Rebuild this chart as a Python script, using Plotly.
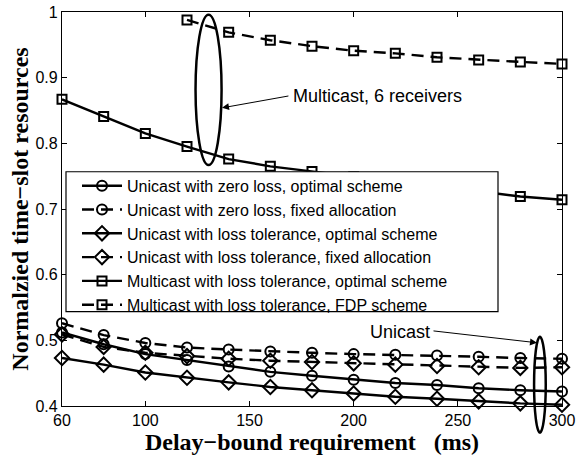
import plotly.graph_objects as go

# ---------------- data ----------------
delay_ms = [60, 80, 100, 120, 140, 160, 180, 200, 220, 240, 260, 280, 300]
delay_fdp = [120, 140, 160, 180, 200, 220, 240, 260, 280, 300]

uni_zero_opt = [0.512, 0.494, 0.479, 0.470, 0.460, 0.452, 0.446, 0.440, 0.435, 0.432, 0.427, 0.424, 0.422]
uni_zero_fix = [0.526, 0.508, 0.496, 0.489, 0.486, 0.483, 0.481, 0.479, 0.478, 0.477, 0.475, 0.473, 0.472]
uni_tol_opt = [0.473, 0.463, 0.451, 0.443, 0.436, 0.429, 0.424, 0.419, 0.414, 0.411, 0.407, 0.404, 0.402]
uni_tol_fix = [0.509, 0.490, 0.481, 0.476, 0.472, 0.469, 0.467, 0.465, 0.463, 0.461, 0.459, 0.458, 0.459]
mc_tol_opt = [0.867, 0.841, 0.815, 0.795, 0.776, 0.765, 0.757, 0.749, 0.741, 0.734, 0.727, 0.719, 0.714]
mc_tol_fdp = [0.988, 0.969, 0.957, 0.948, 0.941, 0.937, 0.931, 0.927, 0.924, 0.921]

names = [
    "Unicast with zero loss, optimal scheme",
    "Unicast with zero loss, fixed allocation",
    "Unicast with loss tolerance, optimal scheme",
    "Unicast with loss tolerance, fixed allocation",
    "Multicast with loss tolerance, optimal scheme",
    "Multicast with loss tolerance, FDP scheme",
]

x_ticks = [60, 100, 150, 200, 250, 300]
y_ticks = [0.4, 0.5, 0.6, 0.7, 0.8, 0.9, 1.0]
y_ticklabels = ["0.4", "0.5", "0.6", "0.7", "0.8", "0.9", "1"]

X_RANGE = [60, 300]
Y_RANGE = [0.4, 1.0]

DASH = "12px,7px"
SANS = "Liberation Sans, Arial, Helvetica, sans-serif"
SERIF = "Liberation Serif, Times New Roman, serif"

series = [
    (delay_ms, uni_zero_opt, "solid", "circle-open", 10),
    (delay_ms, uni_zero_fix, DASH, "circle-open", 10),
    (delay_ms, uni_tol_opt, "solid", "diamond-open", 11),
    (delay_ms, uni_tol_fix, DASH, "diamond-open", 11),
    (delay_ms, mc_tol_opt, "solid", "square-open", 9),
    (delay_fdp, mc_tol_fdp, DASH, "square-open", 9),
]

fig = go.Figure()
for (xs, ys, dash, sym, sz), nm in zip(series, names):
    fig.add_trace(go.Scatter(
        x=xs, y=ys, name=nm, mode="lines+markers",
        line=dict(color="black", width=2.4, dash=dash),
        marker=dict(symbol=sym, size=sz, color="black", line=dict(color="black", width=2)),
        cliponaxis=False,
    ))

def ypaper(v):
    return (v - Y_RANGE[0]) / (Y_RANGE[1] - Y_RANGE[0])

shapes = [
    dict(type="circle", xref="x", yref="y", x0=124.1, x1=136.6, y0=0.767, y1=0.996,
         line=dict(color="black", width=2.5)),
    dict(type="circle", xref="x", yref="paper", x0=286.6, x1=292.2,
         y0=ypaper(0.3595), y1=ypaper(0.5055), line=dict(color="black", width=2.5)),
    # legend box (white, covers the curves behind it)
    dict(type="rect", xref="paper", yref="paper", x0=0.008, x1=0.872, y0=0.2395, y1=0.5946,
         fillcolor="white", line=dict(color="black", width=1.2), layer="above"),
]

annotations = [
    dict(x=136.8, y=0.854, ax=169.4, ay=0.8725, xref="x", yref="y", axref="x", ayref="y",
         text="", showarrow=True, arrowhead=2, arrowsize=1.4, arrowwidth=1, arrowcolor="black"),
    dict(x=170.0, y=0.8725, xref="x", yref="y", text="Multicast, 6 receivers", showarrow=False,
         xanchor="left", yanchor="middle", font=dict(family=SANS, size=18, color="black")),
    dict(x=288.0, y=0.4963, ax=237.6, ay=0.5146, xref="x", yref="y", axref="x", ayref="y",
         text="", showarrow=True, arrowhead=2, arrowsize=1.4, arrowwidth=1, arrowcolor="black"),
    dict(x=237.4, y=0.5130, xref="x", yref="y", text="Unicast", showarrow=False,
         xanchor="right", yanchor="middle", font=dict(family=SANS, size=18, color="black")),
]

fig.update_layout(
    width=579, height=456,
    margin=dict(l=62, r=17, t=12, b=50, autoexpand=False),
    paper_bgcolor="white", plot_bgcolor="white",
    font=dict(family=SANS, size=15, color="black"),
    showlegend=True,
    legend=dict(
        x=0.03, y=0.602, xanchor="left", yanchor="top",
        bgcolor="rgba(0,0,0,0)", borderwidth=0,
        font=dict(family=SANS, size=16, color="black"),
        tracegroupgap=0, itemwidth=40,
    ),
    xaxis=dict(
        range=X_RANGE, tickvals=x_ticks, ticktext=[str(v) for v in x_ticks],
        ticks="inside", ticklen=5, tickwidth=1, tickcolor="black",
        showline=True, linecolor="black", linewidth=1.2, mirror="ticks",
        showgrid=False, zeroline=False, automargin=False,
        tickfont=dict(family=SANS, size=16, color="black"),
        title=dict(text="Delay\u2212bound requirement\u00a0\u00a0\u00a0(ms)",
                   font=dict(family=SERIF, size=24, color="black", weight="bold"), standoff=0),
    ),
    yaxis=dict(
        range=Y_RANGE, tickvals=y_ticks, ticktext=y_ticklabels,
        ticks="inside", ticklen=5, tickwidth=1, tickcolor="black",
        showline=True, linecolor="black", linewidth=1.2, mirror="ticks",
        showgrid=False, zeroline=False, automargin=False,
        tickfont=dict(family=SANS, size=16, color="black"),
        title=dict(text="Normalzied time\u2212slot resources",
                   font=dict(family=SERIF, size=24, color="black", weight="bold"), standoff=0),
    ),
    shapes=shapes,
    annotations=annotations,
)

fig.write_html("out.html")
